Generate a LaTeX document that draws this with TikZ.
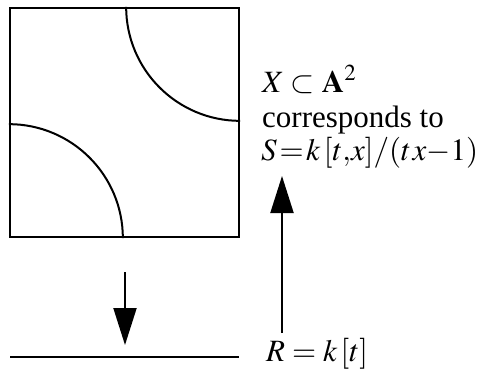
\documentclass[tikz,border=0pt]{standalone}
\usepackage{mathptmx}
\usepackage{fontspec}
\setmainfont{Liberation Serif}
\usetikzlibrary{arrows.meta}
\tikzset{
  frame/.style={draw, line width=2.3pt},
  curve/.style={line width=2pt},
  bigarrow/.style={line width=2pt, -{Triangle[length=37pt,width=23pt]}},
  lbl/.style={anchor=base west, inner sep=0pt, text height=23pt, text depth=6pt,
              font=\fontsize{31}{34}\selectfont}
}
\begin{document}
\begin{tikzpicture}[x=1pt,y=-1pt]
\useasboundingbox (0,0) rectangle (479,370);
% square
\node[frame, minimum width=229pt, minimum height=229pt, inner sep=0pt] (sq) at (124.5,122.5) {};
% arcs
\draw[curve] (sq.north east) ++(-114,0) arc[start angle=180, end angle=90, radius=114];
\draw[curve] (sq.south west) ++(0,-114) arc[start angle=270, end angle=360, radius=114];
% base line
\coordinate (la) at (10,357);
\coordinate (lb) at (239,357);
\draw[line width=2.3pt] (la) -- (lb);
% down arrow
\coordinate (dtop) at (125,272);
\coordinate (dtip) at (125,345);
\draw[bigarrow] (dtop) -- (dtip);
% labels
\node[lbl] (x) at (262,92) {$X \subset \mathbf{A}^2$};
\node[lbl] (c) at (262,127) {corresponds to};
\node[lbl] (s) at (261,160) {$S\mskip1.5mu{=}\mskip1.5mu k\mskip2mu[t{,}x]/(t\mskip1mu x{-}1)$};
\node[lbl] (r) at (266,361) {$R = k\,[t]$};
% up arrow
\coordinate (ubot) at (282,333);
\coordinate (utip) at (282,176);
\draw[bigarrow] (ubot) -- (utip);
\end{tikzpicture}
\end{document}
